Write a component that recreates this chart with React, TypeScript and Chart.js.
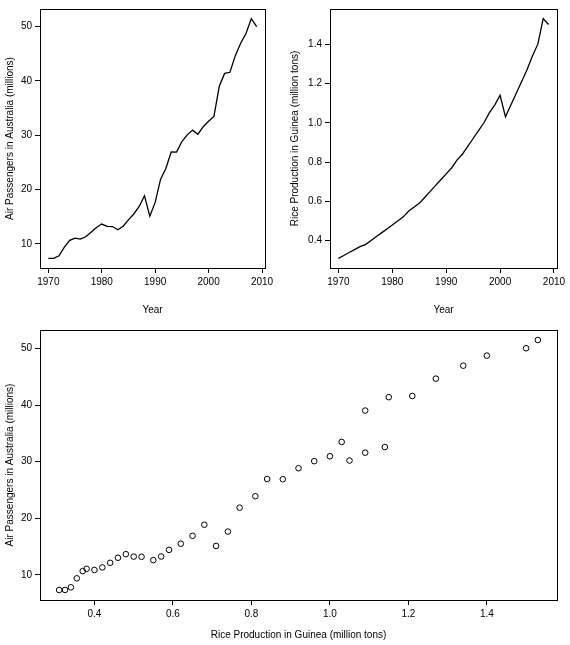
import React, { useEffect, useRef } from 'react';
import Chart from 'chart.js/auto';

const years = [1970, 1971, 1972, 1973, 1974, 1975, 1976, 1977, 1978, 1979, 1980, 1981, 1982, 1983, 1984, 1985, 1986, 1987, 1988, 1989,
    1990, 1991, 1992, 1993, 1994, 1995, 1996, 1997, 1998, 1999, 2000, 2001, 2002, 2003, 2004, 2005, 2006, 2007, 2008, 2009];
const ausair = [7.32, 7.33, 7.80, 9.38, 10.66, 11.06, 10.86, 11.31, 12.12, 13.02, 13.65, 13.22, 13.19, 12.60, 13.24, 14.41, 15.50, 16.89, 18.85, 15.11,
    17.64, 21.87, 23.89, 26.93, 26.89, 28.83, 30.08, 30.95, 30.19, 31.58, 32.58, 33.48, 39.02, 41.39, 41.60, 44.66, 46.95, 48.73, 51.49, 50.03];
const rice = [0.31, 0.325, 0.34, 0.355, 0.37, 0.38, 0.40, 0.42, 0.44, 0.46, 0.48, 0.50, 0.52, 0.55, 0.57, 0.59, 0.62, 0.65, 0.68, 0.71,
    0.74, 0.77, 0.81, 0.84, 0.88, 0.92, 0.96, 1.00, 1.05, 1.09, 1.14, 1.03, 1.09, 1.15, 1.21, 1.27, 1.34, 1.40, 1.53, 1.50];
const yearTicks = [1970, 1980, 1990, 2000, 2010];
const airTicks = [10, 20, 30, 40, 50];
const riceTicks = [0.4, 0.6, 0.8, 1.0, 1.2, 1.4];

const FONT = { family: 'Liberation Sans, Arial, sans-serif', size: 10 };

const boxPlugin = {
    id: 'box',
    afterDraw(chart: any) {
        const { ctx, chartArea: a } = chart;
        ctx.save();
        ctx.strokeStyle = '#000';
        ctx.lineWidth = 1;
        ctx.strokeRect(a.left + 0.5, a.top + 0.5, a.right - a.left, a.bottom - a.top);
        ctx.restore();
    },
};

function axis(min: number, max: number, ticks: number[], title: string, fit: (s: any) => void, fmt: (v: number) => string) {
    return {
        type: 'linear', min, max,
        afterBuildTicks: (s: any) => { s.ticks = ticks.map(v => ({ value: v })); },
        afterFit: fit,
        grid: { display: true, drawOnChartArea: false, drawTicks: true, tickLength: 5, color: '#000' },
        border: { display: false },
        ticks: { color: '#000', font: FONT, maxRotation: 0, callback: (v: any) => fmt(Number(v)) },
        title: { display: true, text: title, color: '#000', font: { ...FONT, size: 10 } },
    };
}

function pad(r: number[]) { const d = (r[1] - r[0]) * 0.04; return [r[0] - d, r[1] + d]; }

const PlotChart: React.FC<{ cfg: () => any; style: React.CSSProperties }> = ({ cfg, style }) => {
    const canvasRef = useRef<HTMLCanvasElement>(null);
    useEffect(() => {
        if (!canvasRef.current) return;
        const chart = new Chart(canvasRef.current, cfg());
        return () => chart.destroy();
    }, []);
    return <div style={{ position: 'absolute', ...style }}><canvas ref={canvasRef}></canvas></div>;
};

const xr = pad([1970, 2009]);
const ar = pad([Math.min(...ausair), Math.max(...ausair)]);
const rr = pad([Math.min(...rice), Math.max(...rice)]);

function lineCfg(ys: number[], yr: number[], yt: number[], ytitle: string, yw: number, padRight: number, fmt: (v: number) => string) {
    return {
        type: 'line',
        data: { datasets: [{ data: years.map((x, i) => ({ x, y: ys[i] })), borderColor: '#000', borderWidth: 1.3, pointRadius: 0, tension: 0 }] },
        options: {
            animation: false, responsive: true, maintainAspectRatio: false,
            layout: { padding: { top: 5, right: padRight, left: 0, bottom: 0 } },
            plugins: { legend: { display: false }, tooltip: { enabled: false } },
            scales: {
                x: axis(xr[0], xr[1], yearTicks, 'Year', (s: any) => { s.height = 52; }, v => String(v)),
                y: axis(yr[0], yr[1], yt, ytitle, (s: any) => { s.width = yw; }, fmt),
            },
        },
        plugins: [boxPlugin],
    };
}

const App: React.FC = () => (
    <div style={{ position: 'fixed', left: 0, top: 0, width: 570, height: 645, background: '#fff' }}>
        <PlotChart style={{ left: 0, top: 0, width: 285, height: 320 }}
            cfg={() => lineCfg(ausair, ar, airTicks, 'Air Passengers in Australia (millions)', 40, 20, v => String(v))} />
        <PlotChart style={{ left: 285, top: 0, width: 285, height: 320 }}
            cfg={() => lineCfg(rice, rr, riceTicks, 'Rice Production in Guinea (million tons)', 45, 13, v => v.toFixed(1))} />
        <PlotChart style={{ left: 0, top: 320, width: 570, height: 325 }}
            cfg={() => ({
                type: 'scatter',
                data: { datasets: [{ data: rice.map((x, i) => ({ x, y: ausair[i] })), borderColor: '#000', backgroundColor: 'rgba(0,0,0,0)', borderWidth: 1, pointRadius: 2.8 }] },
                options: {
                    animation: false, responsive: true, maintainAspectRatio: false,
                    layout: { padding: { top: 10, right: 13, left: 0, bottom: 0 } },
                    plugins: { legend: { display: false }, tooltip: { enabled: false } },
                    scales: {
                        x: axis(rr[0], rr[1], riceTicks, 'Rice Production in Guinea (million tons)', (s: any) => { s.height = 45; }, v => v.toFixed(1)),
                        y: axis(ar[0], ar[1], airTicks, 'Air Passengers in Australia (millions)', (s: any) => { s.width = 40; }, v => String(v)),
                    },
                },
                plugins: [boxPlugin],
            })} />
    </div>
);

export default App;
